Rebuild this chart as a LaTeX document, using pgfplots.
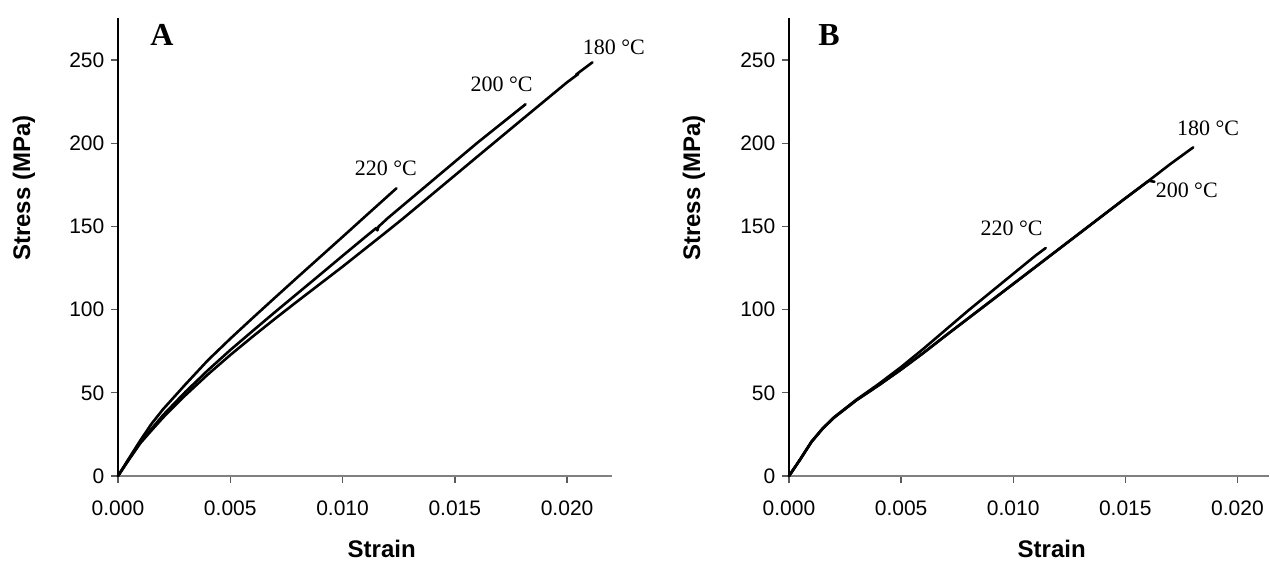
\documentclass[border=0pt]{standalone}
\usepackage{pgfplots}
\pgfplotsset{compat=1.18}
\usepackage{fontspec}
\setmainfont{Liberation Serif}
\setsansfont{Liberation Sans}

% Panel A
\pgfplotstableread{
x y
0 0
0.0003 6.5
0.0006 13
0.001 21.5
0.0015 31.5
0.002 40
0.0025 47.5
0.003 55
0.004 69.5
0.005 82.5
0.006 95
0.007 107.3
0.008 119.5
0.009 131.6
0.010 143.7
0.011 155.9
0.0124 172.9
}\aTwoTwenty
\pgfplotstableread{
x y
0 0
0.0005 10.5
0.001 20.5
0.0015 28.5
0.002 36.5
0.003 50.5
0.004 63.5
0.005 75.7
0.006 87.2
0.007 98.6
0.008 109.8
0.009 121
0.010 132.3
0.011 143.5
0.0115 149
0.01155 147.6
0.0116 149.8
0.012 154.8
0.014 177.5
0.016 200.2
0.01815 223.4
}\aTwoHundred
\pgfplotstableread{
x y
0 0
0.0005 10
0.001 19.8
0.0015 27.5
0.002 35
0.003 48.5
0.004 61
0.005 72.7
0.006 83.8
0.007 94.6
0.008 105.1
0.010 125.8
0.012 147.2
0.0127 154.8
0.014 169.4
0.016 191.9
0.018 214.3
0.020 236.6
0.0205 241.6
0.0204 241.2
0.02113 248.6
}\aOneEighty
% Panel B
\pgfplotstableread{
x y
0 0
0.0005 10
0.001 20.5
0.0015 28.5
0.002 35.2
0.003 45.8
0.004 55.3
0.005 65.5
0.006 76.5
0.007 88
0.008 99.5
0.009 110.5
0.010 121.5
0.011 132.5
0.01145 137
}\bTwoTwenty
\pgfplotstableread{
x y
0 0
0.0005 10
0.001 20.5
0.0015 28.5
0.002 35
0.003 45.5
0.004 54.5
0.005 64
0.006 74
0.007 84.5
0.008 94.8
0.009 105.1
0.010 115.4
0.011 125.7
0.012 136
0.013 146.3
0.014 156.6
0.015 166.9
0.016 177.0
0.01608 177.4
0.0163 176.8
}\bTwoHundred
\pgfplotstableread{
x y
0 0
0.0005 10
0.001 20.5
0.0015 28.5
0.002 35
0.003 45.5
0.004 54.5
0.005 64
0.006 74
0.007 84.5
0.008 94.8
0.009 105.1
0.010 115.4
0.011 125.7
0.012 136
0.013 146.3
0.014 156.6
0.015 166.9
0.016 177.0
0.017 187.4
0.01803 197.5
}\bOneEighty

\tikzset{templab/.style={font=\fontsize{11}{13}\selectfont, inner sep=0pt},
  curve/.style={draw=black, line width=1.3pt, line join=round, line cap=round, mark=none}}
\pgfplotsset{
  panel/.style={
    anchor=south west,
    scale only axis,
    height=228.8pt,
    ymin=0, ymax=275,
    xmin=0,
    axis x line*=bottom,
    axis y line*=left,
    x axis line style={draw=gray, line width=1pt},
    y axis line style={draw=black, line width=0.6pt},
    tick align=outside,
    major tick length=3.3pt,
    xtick style={draw=gray!70!black, line width=0.7pt},
    ytick style={draw=gray!70!black, line width=0.6pt},
    scaled x ticks=false,
    xtick={0,0.005,0.01,0.015,0.02},
    xticklabels={0.000,0.005,0.010,0.015,0.020},
    ytick={0,50,100,150,200,250},
    yticklabels={0,50,100,150,200,250},
    tick label style={font=\sffamily\fontsize{10.5}{12}\selectfont},
    xticklabel style={yshift=-5.5pt},
    clip=false,
  },
}

\begin{document}
\begin{tikzpicture}
\useasboundingbox (0,0) rectangle (635pt,280.5pt);

\begin{axis}[panel, at={(59pt,42.5pt)}, width=247pt, xmax=0.022]
\addplot[curve] table {\aTwoTwenty};
\addplot[curve] table {\aTwoHundred};
\addplot[curve] table {\aOneEighty};
\node[templab] at (axis cs:0.02208,257.8) {180 °C};
\node[templab] at (axis cs:0.01708,235.6) {200 °C};
\node[templab] at (axis cs:0.01193,185.1) {220 °C};
\end{axis}

\begin{axis}[panel, at={(394.5pt,42.5pt)}, width=239.9pt, xmax=0.0214]
\addplot[curve] table {\bTwoTwenty};
\addplot[curve] table {\bTwoHundred};
\addplot[curve] table {\bOneEighty};
\node[templab] at (axis cs:0.01869,209.0) {180 °C};
\node[templab] at (axis cs:0.01774,171.9) {200 °C};
\node[templab] at (axis cs:0.00993,148.9) {220 °C};
\end{axis}

\node[font=\bfseries\fontsize{16}{18}\selectfont, inner sep=0pt] at (81pt,263pt) {A};
\node[font=\bfseries\fontsize{16}{18}\selectfont, inner sep=0pt] at (414.5pt,263pt) {B};
\node[font=\sffamily\bfseries\fontsize{12}{14}\selectfont, inner sep=0pt, rotate=90] at (12pt,186.5pt) {Stress (MPa)};
\node[font=\sffamily\bfseries\fontsize{12}{14}\selectfont, inner sep=0pt, rotate=90] at (347pt,186.5pt) {Stress (MPa)};
\node[font=\sffamily\bfseries\fontsize{12}{14}\selectfont, inner sep=0pt] at (190.85pt,6pt) {Strain};
\node[font=\sffamily\bfseries\fontsize{12}{14}\selectfont, inner sep=0pt] at (525.85pt,6pt) {Strain};
\end{tikzpicture}
\end{document}
